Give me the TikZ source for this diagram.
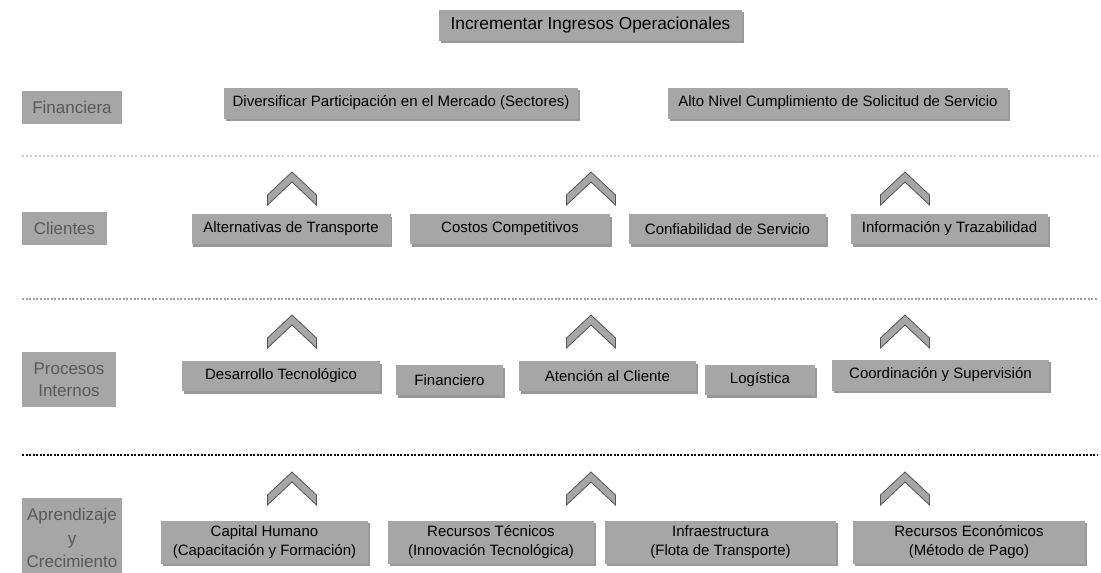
\documentclass[tikz,border=0pt]{standalone}
\usepackage{fontspec}
\setmainfont{Liberation Sans}
\usetikzlibrary{shadows}
\definecolor{boxgray}{HTML}{A6A6A6}
\definecolor{labtext}{HTML}{595959}
\definecolor{chevline}{HTML}{555555}
\tikzset{
  obj/.style={fill=boxgray, inner sep=0pt, align=center, text=black,
    font=\fontsize{15}{18.5}\selectfont,
    drop shadow={shadow xshift=1.5pt, shadow yshift=-2.5pt, opacity=0.4, fill=black}},
  lab/.style={fill=boxgray, inner sep=0pt, align=center, text=labtext,
    font=\fontsize{17}{22}\selectfont},
  chev/.style={fill=boxgray, draw=chevline, line width=0.8pt, line join=miter},
  sep1/.style={draw=gray!40, line width=1.6pt, dash pattern=on 2pt off 2.2pt},
  sep2/.style={draw=gray!75, line width=1.6pt, dash pattern=on 2pt off 1.6pt},
  sep3/.style={draw=black, line width=2pt, dash pattern=on 2pt off 1.5pt},
  pics/chevron/.style={code={
    \draw[chev] (-24.5,23) -- (0,0) -- (24.5,23) -- (24.5,33) -- (0,10) -- (-24.5,33) -- cycle;
  }}
}
\begin{document}
\begin{tikzpicture}[x=1pt,y=-1pt]
\useasboundingbox (0,0) rectangle (1101,573);
% title
\node[obj, minimum width=303pt, minimum height=31pt, font=\fontsize{17.3}{20}\selectfont] (top) at (590.5,25) {Incrementar Ingresos Operacionales};
% Financiera row
\node[lab, minimum width=100pt, minimum height=33pt] (lfin) at (72,107.5) {Financiera};
\node[obj, minimum width=354pt, minimum height=31pt] (f1) at (401,103) {Diversificar Participación en el Mercado (Sectores)};
\node[obj, minimum width=340pt, minimum height=31pt] (f2) at (838,103) {Alto Nivel Cumplimiento de Solicitud de Servicio};
\coordinate (l1a) at (22,156); \coordinate (l1b) at (1098,156);
\draw[sep1] (l1a) -- (l1b);
% Clientes row
\pic at (292,172) {chevron};
\pic at (591,172) {chevron};
\pic at (905,172) {chevron};
\node[lab, minimum width=85pt, minimum height=33pt] (lcli) at (64.5,228.5) {Clientes};
\node[obj, minimum width=199pt, minimum height=30pt] (c1) at (291,229) {Alternativas de Transporte};
\node[obj, minimum width=200pt, minimum height=30pt] (c2) at (510,229) {Costos Competitivos};
\node[obj, minimum width=197pt, minimum height=30pt] (c3) at (727.5,229) {Confiabilidad de Servicio};
\node[obj, minimum width=197pt, minimum height=30pt] (c4) at (949.5,229) {Información y Trazabilidad};
\coordinate (l2a) at (22,299); \coordinate (l2b) at (1098,299);
\draw[sep2] (l2a) -- (l2b);
% Procesos row
\pic at (292,315) {chevron};
\pic at (591,315) {chevron};
\pic at (905,315) {chevron};
\node[lab, minimum width=94pt, minimum height=55pt] (lpro) at (69,379.5) {Procesos\\Internos};
\node[obj, minimum width=198pt, minimum height=30pt] (p1) at (281,376) {Desarrollo Tecnológico};
\node[obj, minimum width=107pt, minimum height=30pt] (p2) at (449.5,380) {Financiero};
\node[obj, minimum width=177pt, minimum height=30pt] (p3) at (607.5,376) {Atención al Cliente};
\node[obj, minimum width=110pt, minimum height=30pt] (p4) at (760,380) {Logística};
\node[obj, minimum width=217pt, minimum height=31pt] (p5) at (940.5,375) {Coordinación y Supervisión};
\coordinate (l3a) at (22,455); \coordinate (l3b) at (1098,455);
\draw[sep3] (l3a) -- (l3b);
% Aprendizaje row
\pic at (292,472) {chevron};
\pic at (591,472) {chevron};
\pic at (905,472) {chevron};
\node[lab, minimum width=100pt, minimum height=80pt, font=\fontsize{17}{23.5}\selectfont] (lapr) at (72,538) {Aprendizaje\\y\\Crecimiento};
\node[obj, minimum width=207pt, minimum height=43pt] (a1) at (264.5,542) {Capital Humano\\(Capacitación y Formación)};
\node[obj, minimum width=206pt, minimum height=43pt] (a2) at (491,542) {Recursos Técnicos\\(Innovación Tecnológica)};
\node[obj, minimum width=231pt, minimum height=43pt] (a3) at (720.5,542) {Infraestructura\\(Flota de Transporte)};
\node[obj, minimum width=232pt, minimum height=43pt] (a4) at (969,542) {Recursos Económicos\\(Método de Pago)};
\end{tikzpicture}
\end{document}
